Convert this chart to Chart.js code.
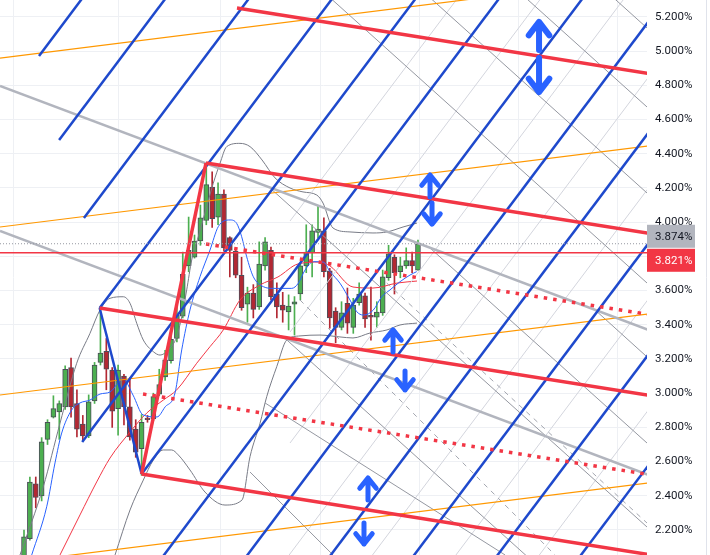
<!DOCTYPE html>
<html lang="en">
<head>
<meta charset="UTF-8" />
<title>Yield chart</title>
<script src="https://cdn.jsdelivr.net/npm/chart.js"></script>
<style>
  html, body { margin: 0; padding: 0; background: #fff; }
  .chart-container { position: relative; width: 710px; height: 555px; }
</style>
</head>
<body>
<div class="chart-container"><canvas id="yieldChart"></canvas></div>
<script>
// weekly candles (percent), bar index 0..67
const opens  = [2.00,2.15,2.47,2.40,2.73,2.86,2.89,2.92,3.15,2.94,2.82,2.75,2.955,3.18,3.245,3.135,2.91,3.10,2.92,2.79,
                2.675,2.855,2.85,2.995,3.095,3.19,3.32,3.45,3.745,3.795,3.89,4.01,4.205,4.03,4.165,3.91,3.83,3.69,3.52,3.585,
                3.505,3.745,3.835,3.58,3.515,3.475,3.52,3.58,3.745,3.82,3.94,3.95,3.715,3.48,3.385,3.525,3.385,3.53,3.57,3.455,
                3.445,3.47,3.675,3.795,3.71,3.745,3.775,3.72];
const highs  = [2.20,2.51,2.51,2.74,2.845,2.985,2.955,3.16,3.205,3.02,2.87,2.99,3.18,3.50,3.32,3.15,3.165,3.11,3.09,2.845,
                2.875,2.87,3.00,3.14,3.25,3.37,3.545,3.825,4.03,3.925,4.10,4.345,4.295,4.23,4.19,3.915,3.84,3.795,3.62,3.635,
                3.885,3.91,3.855,3.645,3.59,3.575,3.565,3.76,3.985,3.985,4.095,4.025,3.73,3.50,3.535,3.615,3.555,3.645,3.585,3.62,
                3.535,3.72,3.865,3.81,3.795,3.85,3.825,3.895];
const lows   = [1.99,2.14,2.33,2.37,2.70,2.855,2.73,2.905,2.86,2.745,2.72,2.74,2.94,3.165,3.02,2.80,2.755,2.815,2.725,2.625,
                2.52,2.83,2.84,2.985,3.075,3.175,3.30,3.44,3.71,3.79,3.865,3.985,3.97,3.985,3.83,3.68,3.675,3.485,3.415,3.44,
                3.49,3.72,3.545,3.44,3.415,3.37,3.34,3.545,3.705,3.68,3.91,3.68,3.38,3.295,3.37,3.35,3.35,3.515,3.385,3.31,
                3.385,3.455,3.66,3.58,3.675,3.73,3.705,3.72];
const closes = [2.16,2.48,2.39,2.715,2.83,2.91,2.94,3.14,2.92,2.79,2.75,2.95,3.165,3.235,3.14,2.895,3.135,2.92,2.745,2.655,
                2.83,2.845,2.98,3.05,3.195,3.315,3.455,3.695,3.835,3.89,4.025,4.22,4.02,4.165,3.85,3.835,3.69,3.50,3.585,3.49,
                3.755,3.885,3.565,3.505,3.485,3.51,3.535,3.745,3.825,3.95,3.96,3.71,3.44,3.385,3.47,3.41,3.515,3.58,3.435,3.445,
                3.475,3.68,3.815,3.705,3.745,3.775,3.745,3.874];

// indicator lines: [bar, value]
const fastMa = [[1.31,2.054],[3.86,2.336],[5.27,2.592],[6.41,2.767],[8.11,2.902],[9.52,2.943],[11.22,2.960],[12.93,2.995],
                [14.63,3.007],[16.84,3.083],[18.54,2.989],[20.24,2.873],[22.62,2.861],[23.98,2.919],[25.68,3.001],[26.82,3.253],
                [28.23,3.487],[29.93,3.681],[31.63,3.837],[33.04,3.974],[35.03,4.013],[36.17,3.993],[37.02,3.915],[37.87,3.798],
                [39.00,3.681],[40.70,3.623],[42.40,3.613],[45.53,3.613],[46.65,3.643],[47.79,3.720],[49.20,3.769],[50.90,3.767],
                [52.04,3.711],[53.74,3.643],[55.44,3.545],[56.58,3.477],[57.70,3.457],[59.40,3.486],[60.83,3.564],[62.24,3.604],
                [63.95,3.652],[65.65,3.691],[66.79,3.711]];
const slowMa = [[6.12,2.054],[9.52,2.288],[12.36,2.481],[14.63,2.621],[18.03,2.773],[20.87,2.884],[23.69,2.960],[25.97,3.019],
                [29.37,3.175],[31.63,3.272],[33.89,3.370],[36.73,3.545],[40.14,3.633],[43.20,3.680],[46.60,3.756],[50.34,3.767],
                [52.04,3.744],[55.95,3.621],[59.35,3.615],[63.44,3.644],[66.84,3.656]];
const bandUpper = [[-0.68,2.054],[3.28,2.453],[6.12,2.824],[8.96,3.175],[11.22,3.350],[12.93,3.487],[14.63,3.555],[16.89,3.564],
                [18.03,3.526],[19.17,3.409],[20.29,3.311],[21.99,3.243],[23.13,3.223],[24.54,3.253],[25.97,3.330],[26.82,3.447],
                [27.67,3.604],[28.52,3.779],[29.64,3.915],[31.07,4.091],[32.19,4.228],[33.33,4.344],[34.47,4.442],[36.73,4.461],
                [38.44,4.442],[40.48,4.364],[42.69,4.259],[45.24,4.200],[47.45,4.177],[49.78,4.159],[50.85,4.112],[52.55,3.966],
                [55.44,3.943],[59.35,3.937],[61.73,3.943],[64.46,3.972],[66.84,3.995]];
const bandLower = [[15.48,2.054],[18.03,2.317],[20.29,2.492],[21.99,2.609],[23.69,2.668],[25.12,2.668],[26.24,2.639],[28.23,2.551],
                [30.78,2.422],[34.18,2.346],[37.07,2.375],[38.44,2.629],[40.14,2.824],[41.28,2.980],[42.98,3.155],[44.68,3.311],
                [46.94,3.335],[50.34,3.340],[53.74,3.329],[55.95,3.323],[58.84,3.352],[61.73,3.370],[63.95,3.399],[66.84,3.410]];

// drawn lines: [barStart, valueStart, barEnd, valueEnd]
const blueLines = [[2.551,4.972,11.89,5.4],[5.969,4.481,26.07,5.4],[10.19,4.0245,40.26,5.4],[12.86,3.498,54.44,5.4],
                   [9.90,2.7146,68.62,5.4],[20.0,2.5275,82.81,5.4],[20.61,1.9076,96.99,5.4],[34.80,1.9076,111.17,5.4],
                   [48.98,1.9076,125.36,5.4],[63.16,1.9076,139.54,5.4],[77.35,1.9076,153.72,5.4],[91.53,1.9076,167.91,5.4],
                   [12.86,3.498,20.0,2.5275]];
const lightLines = [[45.24,4.007,75.71,5.4],[45.24,3.3579,89.90,5.4],[45.24,2.7088,104.08,5.4],[41.89,1.9076,118.27,5.4],
                    [56.07,1.9076,132.45,5.4],[70.26,1.9076,146.63,5.4],[84.44,1.9076,160.82,5.4]];
const redLines = [[36.22,5.253,114.97,4.822],[30.95,4.346,114.97,3.887],[12.86,3.498,114.97,2.940],
                  [20.0,2.5275,114.97,2.009],[20.0,2.5275,30.95,4.346]];
const redMidLines = [[30.95,3.8725,114.97,3.413],[20.24,2.995,114.97,2.477]];
const orangeLines = [[-4.082,4.960,114.97,5.472],[-4.082,3.972,114.97,4.484],[-4.082,2.9895,114.97,3.501],[-4.082,2.001,114.97,2.513]];
const greyLines = [[-4.082,4.7965,114.97,3.257],[-4.082,3.9485,114.97,2.409]];
const thinGreyLines = [[98.78,5.358,110,5.0104],[83.84,5.358,110,4.5484],[67.59,5.358,110,4.0454],[50.58,5.358,110,3.5191],
                       [96.94,3.4924,110,3.0864],[69.05,3.8491,110,2.5835],[41.84,4.2,110,2.0922],[44.22,3.326,88,1.97],
                       [38.44,2.539,52.55,2.054],[40.99,2.943,81.81,2.054]];
const dashedLines = [[46.94,3.545,90.31,2.054],[61.68,3.6445,105.95,2.2409]];

// up/down arrows: bar, tail value, tip value, head half width (bars), head length (value)
const arrowX    = [87.59,87.59,69.05,69.39,62.76,64.80,58.50,57.82];
const arrowTail = [5.007,4.960,4.147,4.112,3.241,3.130,2.375,2.241];
const arrowTip  = [5.171,4.761,4.276,3.989,3.370,3.019,2.504,2.118];
const arrowHalf = [1.75,1.75,1.4,1.4,1.4,1.4,1.4,1.4];
const arrowHead = [0.078,0.078,0.06,0.06,0.06,0.06,0.06,0.06];

const yTicks = [2.2,2.4,2.6,2.8,3.0,3.2,3.4,3.6,3.8,4.0,4.2,4.4,4.6,4.8,5.0,5.2];
const xGridAt = [7.1,25,42,58.8,75.7,92.5];
const lastPrice = 3.874;
const levelPrice = 3.821;

const GREEN = '#4caf50', RED = '#b22833';
const idx = opens.map((_, i) => i);
const isUp = idx.map(i => closes[i] >= opens[i]);

const pts = arr => arr.map(p => ({ x: p[0], y: p[1] }));
const seg = (s, color, width, order, dash) => ({
    type: 'line',
    data: [{ x: s[0], y: s[1] }, { x: s[2], y: s[3] }],
    borderColor: color, borderWidth: width, borderDash: dash || [],
    pointRadius: 0, order: order, clip: 0
});
const curve = (arr, color, width) => ({
    type: 'line', data: pts(arr), borderColor: color, borderWidth: width,
    pointRadius: 0, cubicInterpolationMode: 'monotone', order: 50, clip: 0
});

const datasets = [];

// drawings (on top)
lightLines.forEach(s => datasets.push(seg(s, '#d3d5dd', 1, 32)));
thinGreyLines.forEach(s => datasets.push(seg(s, '#9598a1', 1, 30)));
dashedLines.forEach(s => datasets.push(seg(s, '#a3a6af', 1, 30, [5, 5])));
orangeLines.forEach(s => datasets.push(seg(s, '#ff9800', 1.2, 20)));
greyLines.forEach(s => datasets.push(seg(s, '#b2b5be', 2.5, 19)));
blueLines.forEach(s => datasets.push(seg(s, '#1e49cc', 2.5, 15)));
redLines.forEach(s => datasets.push(seg(s, '#f23645', 3.5, 10)));
redMidLines.forEach(s => datasets.push(seg(s, '#f23645', 3.5, 10, [3.5, 6])));
datasets.push(seg([-4.082, levelPrice, 105.95, levelPrice], '#f23645', 1.5, 9));
datasets.push(seg([-4.082, lastPrice, 105.95, lastPrice], '#9598a1', 1, 9, [1, 2]));

arrowX.forEach((x, k) => {
    const dir = arrowTip[k] > arrowTail[k] ? 1 : -1;
    const tip = { x: x, y: arrowTip[k] };
    datasets.push({
        type: 'line',
        data: [{ x: x, y: arrowTail[k] }, tip,
               { x: x - arrowHalf[k], y: arrowTip[k] - dir * arrowHead[k] }, tip,
               { x: x + arrowHalf[k], y: arrowTip[k] - dir * arrowHead[k] }],
        borderColor: '#2962ff', borderWidth: k < 2 ? 6 : 5, pointRadius: 0,
        borderCapStyle: 'round', borderJoinStyle: 'round', order: 1, clip: 0
    });
});

// indicators
datasets.push(curve(fastMa, '#2962ff', 1));
datasets.push(curve(slowMa, '#f23645', 1));
datasets.push(curve(bandUpper, '#787b86', 1));
datasets.push(curve(bandLower, '#787b86', 1));

// candles
datasets.push({
    type: 'bar', grouped: false, order: 99, barThickness: 5,
    data: idx.map(i => ({ x: i, y: [Math.min(opens[i], closes[i]), Math.max(opens[i], closes[i])] })),
    backgroundColor: idx.map(i => isUp[i] ? GREEN : RED),
    borderColor: '#4d4e5a', borderWidth: 1, borderSkipped: false
});
datasets.push({
    type: 'bar', grouped: false, order: 100, barThickness: 1,
    data: idx.map(i => ({ x: i, y: [lows[i], highs[i]] })),
    backgroundColor: idx.map(i => isUp[i] ? GREEN : RED)
});

// price labels on the axis + panel edge
const priceLabels = {
    id: 'priceLabels',
    afterDraw(chart) {
        const ctx = chart.ctx, y = chart.scales.y, area = chart.chartArea;
        const pA = y.getPixelForValue(lastPrice), pB = y.getPixelForValue(levelPrice);
        const h = 23, mid = (pA + pB) / 2;
        const boxes = [
            { c: mid - h / 2 - 0.5, bg: '#b2b5be', fg: '#131722', t: lastPrice.toFixed(3) + '%' },
            { c: mid + h / 2 + 0.5, bg: '#f23645', fg: '#ffffff', t: levelPrice.toFixed(3) + '%' }
        ];
        ctx.save();
        ctx.font = '11.5px Roboto';
        ctx.textBaseline = 'middle';
        boxes.forEach(b => {
            ctx.fillStyle = b.bg;
            ctx.fillRect(area.right, b.c - h / 2, 48, h);
            ctx.fillStyle = b.fg;
            ctx.fillText(b.t, area.right + 8, b.c + 1);
        });
        ctx.strokeStyle = '#e0e3eb';
        ctx.lineWidth = 1;
        ctx.beginPath();
        ctx.moveTo(706.5, 0);
        ctx.lineTo(706.5, chart.height);
        ctx.stroke();
        ctx.restore();
    }
};

new Chart(document.getElementById('yieldChart'), {
    type: 'bar',
    data: { datasets: datasets },
    options: {
        responsive: true,
        maintainAspectRatio: false,
        animation: false,
        layout: { padding: 0 },
        plugins: { legend: { display: false }, tooltip: { enabled: false } },
        scales: {
            x: {
                type: 'linear', min: -4.082, max: 105.95, offset: false,
                afterBuildTicks: s => { s.ticks = xGridAt.map(v => ({ value: v })); },
                afterFit: s => { s.height = 0; s.paddingLeft = 0; s.paddingRight = 0; },
                ticks: { display: false },
                grid: { color: '#eef0f4', drawTicks: false },
                border: { display: false }
            },
            y: {
                position: 'right', min: 2.0538, max: 5.2994,
                afterBuildTicks: s => { s.ticks = yTicks.map(v => ({ value: v })); },
                afterFit: s => { s.width = 63; s.paddingTop = 0; s.paddingBottom = 0; },
                ticks: {
                    padding: 8, color: '#131722',
                    font: { family: 'Roboto', size: 11.5 },
                    callback: v => v.toFixed(3) + '%'
                },
                grid: { color: '#eef0f4', drawTicks: false },
                border: { display: false }
            }
        }
    },
    plugins: [priceLabels]
});
</script>
</body>
</html>
